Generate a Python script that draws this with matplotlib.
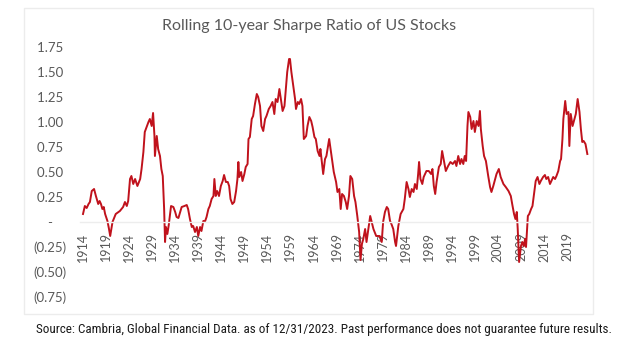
import matplotlib
matplotlib.use("Agg")
import matplotlib.pyplot as plt
from matplotlib.patches import Rectangle
from matplotlib import font_manager

# ---- data ----
years = [
    1914.0, 1914.4, 1914.8, 1915.2, 1915.5, 1915.9, 1916.4, 1916.8, 1917.3, 1917.6,
    1917.9, 1918.2, 1918.5, 1918.8, 1919.3, 1919.6, 1919.9, 1920.4, 1921.1, 1922.0,
    1922.7, 1923.1, 1923.5, 1923.8, 1924.2, 1924.5, 1924.9, 1925.3, 1925.8, 1926.4,
    1926.7, 1927.1, 1927.4, 1927.8, 1928.2, 1928.5, 1928.9, 1929.2, 1929.5, 1929.6,
    1930.0, 1930.3, 1930.7, 1931.0, 1931.3, 1931.6, 1931.8, 1932.0, 1932.3, 1932.6,
    1933.1, 1933.6, 1934.0, 1934.3, 1934.7, 1935.4, 1936.0, 1936.5, 1936.8, 1937.2,
    1937.6, 1937.9, 1938.3, 1938.7, 1939.0, 1939.4, 1939.7, 1940.1, 1940.5, 1940.8,
    1941.2, 1941.5, 1941.9, 1942.3, 1942.5, 1942.8, 1943.1, 1943.5, 1943.9, 1944.3,
    1944.6, 1945.0, 1945.4, 1945.7, 1946.0, 1946.4, 1946.8, 1947.2, 1947.5, 1947.7,
    1947.9, 1948.3, 1948.6, 1949.0, 1949.3, 1949.7, 1949.9, 1950.2, 1950.6, 1950.9,
    1951.3, 1951.7, 1952.0, 1952.4, 1952.7, 1953.1, 1953.5, 1953.8, 1954.3, 1954.7,
    1955.1, 1955.5, 1955.8, 1956.2, 1956.6, 1957.0, 1957.3, 1957.7, 1958.0, 1958.3,
    1958.7, 1958.9, 1959.2, 1959.5, 1959.8, 1960.0, 1960.2, 1960.6, 1960.9, 1961.3,
    1961.6, 1961.9, 1962.4, 1962.7, 1963.1, 1963.5, 1963.8, 1964.2, 1964.5, 1964.9,
    1965.3, 1965.5, 1965.9, 1966.1, 1966.5, 1966.8, 1967.4, 1967.7, 1968.1, 1968.4,
    1968.9, 1969.2, 1969.6, 1969.9, 1970.2, 1970.6, 1971.0, 1971.3, 1971.7, 1972.0,
    1972.4, 1972.8, 1973.1, 1973.5, 1973.9, 1974.2, 1974.5, 1974.8, 1975.2, 1975.5,
    1976.3, 1977.0, 1977.6, 1978.3, 1978.8, 1979.1, 1979.5, 1979.9, 1980.2, 1980.6,
    1980.9, 1981.3, 1981.7, 1981.9, 1982.4, 1982.9, 1983.5, 1983.8, 1984.2, 1984.6,
    1984.9, 1985.3, 1985.7, 1986.0, 1986.4, 1986.7, 1986.9, 1987.2, 1987.6, 1987.9,
    1988.5, 1989.0, 1989.5, 1989.8, 1990.1, 1990.4, 1990.7, 1991.2, 1991.6, 1991.9,
    1992.3, 1992.7, 1993.2, 1993.7, 1994.2, 1994.7, 1995.0, 1995.4, 1995.8, 1996.1,
    1996.5, 1996.8, 1997.1, 1997.4, 1997.6, 1998.0, 1998.3, 1998.7, 1999.0, 1999.4,
    1999.8, 2000.1, 2000.3, 2000.7, 2001.0, 2001.4, 2001.9, 2002.3, 2002.6, 2003.0,
    2003.4, 2003.7, 2004.2, 2004.6, 2005.2, 2005.7, 2006.3, 2006.8, 2007.1, 2007.5,
    2007.8, 2008.1, 2008.3, 2008.6, 2009.0, 2009.3, 2009.6, 2009.9, 2010.1, 2010.5,
    2010.8, 2011.2, 2011.5, 2011.9, 2012.2, 2012.6, 2013.0, 2013.3, 2013.8, 2014.2,
    2014.5, 2014.9, 2015.3, 2015.6, 2016.0, 2016.4, 2016.7, 2017.1, 2017.5, 2017.7,
    2018.0, 2018.2, 2018.6, 2018.9, 2019.3, 2019.5, 2019.8, 2020.2, 2020.5, 2020.9,
    2021.3, 2021.7, 2022.0, 2022.3, 2022.6, 2023.0, 2023.4,
]
sharpe = [
    0.08, 0.16, 0.14, 0.18, 0.20, 0.31, 0.33, 0.26, 0.18, 0.21,
    0.18, 0.13, 0.15, 0.08, 0.01, -0.06, -0.14, 0.00, 0.08, 0.11,
    0.15, 0.20, 0.16, 0.21, 0.43, 0.46, 0.38, 0.43, 0.36, 0.43,
    0.53, 0.70, 0.90, 0.95, 1.00, 1.03, 0.96, 1.09, 0.86, 0.66,
    0.86, 0.73, 0.66, 0.53, 0.46, 0.13, -0.20, -0.05, -0.12, -0.03,
    0.16, 0.15, 0.10, 0.05, 0.04, 0.15, 0.16, 0.17, 0.13, 0.03,
    -0.05, -0.04, -0.10, -0.05, -0.14, -0.05, -0.09, 0.01, 0.01, 0.05,
    0.13, 0.16, 0.23, 0.26, 0.43, 0.26, 0.31, 0.26, 0.36, 0.41,
    0.47, 0.40, 0.40, 0.36, 0.23, 0.18, 0.20, 0.31, 0.43, 0.60,
    0.45, 0.50, 0.41, 0.48, 0.55, 0.58, 0.83, 0.85, 1.03, 1.06,
    1.18, 1.28, 1.25, 1.16, 0.96, 0.91, 1.03, 1.06, 1.13, 1.16,
    1.20, 1.08, 1.23, 1.20, 1.33, 1.20, 1.11, 1.16, 1.33, 1.50,
    1.63, 1.63, 1.50, 1.40, 1.30, 1.23, 1.13, 1.20, 1.18, 1.23,
    1.16, 0.83, 0.86, 0.96, 1.05, 1.01, 0.95, 0.85, 0.83, 0.71,
    0.66, 0.73, 0.56, 0.48, 0.63, 0.66, 0.83, 0.73, 0.60, 0.50,
    0.40, 0.30, 0.33, 0.13, 0.28, 0.26, 0.20, 0.13, 0.26, 0.46,
    0.43, 0.26, 0.20, 0.06, -0.10, -0.38, -0.22, -0.17, -0.07, -0.20,
    0.06, -0.07, -0.14, -0.14, -0.20, 0.00, 0.10, 0.15, 0.13, 0.01,
    -0.02, -0.07, -0.20, -0.24, -0.04, 0.08, 0.13, 0.23, 0.40, 0.33,
    0.25, 0.33, 0.30, 0.38, 0.33, 0.48, 0.60, 0.43, 0.38, 0.45,
    0.51, 0.51, 0.48, 0.53, 0.36, 0.28, 0.40, 0.55, 0.58, 0.71,
    0.61, 0.51, 0.56, 0.60, 0.58, 0.61, 0.56, 0.66, 0.58, 0.63,
    0.58, 0.66, 0.61, 0.96, 1.10, 1.05, 0.93, 1.01, 0.90, 1.01,
    0.96, 1.11, 0.93, 0.76, 0.66, 0.61, 0.46, 0.35, 0.30, 0.36,
    0.43, 0.48, 0.53, 0.45, 0.38, 0.35, 0.31, 0.26, 0.18, 0.08,
    0.03, 0.10, -0.07, -0.40, -0.24, -0.20, -0.24, -0.17, -0.25, 0.06,
    0.08, 0.13, 0.16, 0.30, 0.41, 0.45, 0.38, 0.41, 0.45, 0.47,
    0.43, 0.45, 0.38, 0.41, 0.45, 0.43, 0.46, 0.51, 0.61, 0.63,
    0.83, 1.03, 1.21, 1.08, 1.10, 0.76, 1.08, 0.96, 1.01, 1.08,
    1.23, 1.10, 0.93, 0.80, 0.81, 0.78, 0.68,
]
x_tick_years = [1914, 1919, 1924, 1929, 1934, 1939, 1944, 1949, 1954, 1959, 1964,
                1969, 1974, 1979, 1984, 1989, 1994, 1999, 2004, 2009, 2014, 2019]
y_ticks = [-0.75, -0.50, -0.25, 0.0, 0.25, 0.50, 0.75, 1.00, 1.25, 1.50, 1.75]

title = "Rolling 10-year Sharpe Ratio of US Stocks"
source = ("Source: Cambria, Global Financial Data. as of 12/31/2023. "
          "Past performance does not guarantee future results.")

# ---- figure ----
W, H = 624, 340
fig = plt.figure(figsize=(W / 100, H / 100), dpi=100)
fig.patch.set_facecolor("white")

# panel frame
fig.patches.append(Rectangle((24 / W, 1 - 314 / H), (593 - 24) / W, (314 - 8) / H,
                             transform=fig.transFigure, facecolor="white",
                             edgecolor="#ECECEC", linewidth=1.0, zorder=-5))

px_per_year = 4.61
ax_l, ax_r = 80, 590
x0 = 1914 - (83 - ax_l) / px_per_year
x1 = 1914 + (ax_r - 83) / px_per_year
ax = fig.add_axes([ax_l / W, 1 - 297 / H, (ax_r - ax_l) / W, (297 - 47) / H])
ax.set_zorder(2)
ax.set_facecolor("none")
ax.plot(years, sharpe, color="#C0121C", linewidth=1.4, solid_joinstyle="round")
ax.set_xlim(x0, x1)
ax.set_ylim(-0.75, 1.75)

for s in ["top", "right", "left"]:
    ax.spines[s].set_visible(False)
ax.spines["bottom"].set_position(("data", 0))
ax.spines["bottom"].set_color("#EDEDED")
ax.spines["bottom"].set_linewidth(1.0)

def yfmt(v):
    if abs(v) < 1e-9:
        return "-    "
    if v < 0:
        return f"({abs(v):.2f})"
    return f"{v:.2f} "

tick_font = "Lato"
ax.set_yticks(y_ticks)
ax.set_yticklabels([yfmt(v) for v in y_ticks], fontsize=9.5, color="#595959",
                   family=tick_font)
ax.set_xticks(x_tick_years)
ax.set_xticklabels([str(y) for y in x_tick_years], rotation=90, fontsize=9.0,
                   color="#595959", family=tick_font)
ax.tick_params(axis="y", length=0, pad=9.5)
ax.tick_params(axis="x", length=0, pad=7.5)

fig.text(309 / W, 1 - 26 / H, title, ha="center", va="center", fontsize=11.5,
         color="#595959", family=tick_font)

# source note: pick a narrow font if available, then fit its width to the reference
src_family = "Liberation Sans"
for cand in ["Liberation Sans Narrow", "DejaVu Sans Condensed", "Roboto Condensed"]:
    try:
        font_manager.findfont(font_manager.FontProperties(family=cand),
                              fallback_to_default=False)
        src_family = cand
        break
    except Exception:
        pass
src = fig.text(36 / W, 1 - 330 / H, source, ha="left", va="center", fontsize=9.3,
               color="#1a1a1a", family=src_family)
renderer = fig.canvas.get_renderer()
target_w = 611 - 36
for _ in range(3):
    w = src.get_window_extent(renderer).width
    src.set_fontsize(src.get_fontsize() * target_w / w)

fig.savefig("out.png", dpi=100, facecolor="white")
